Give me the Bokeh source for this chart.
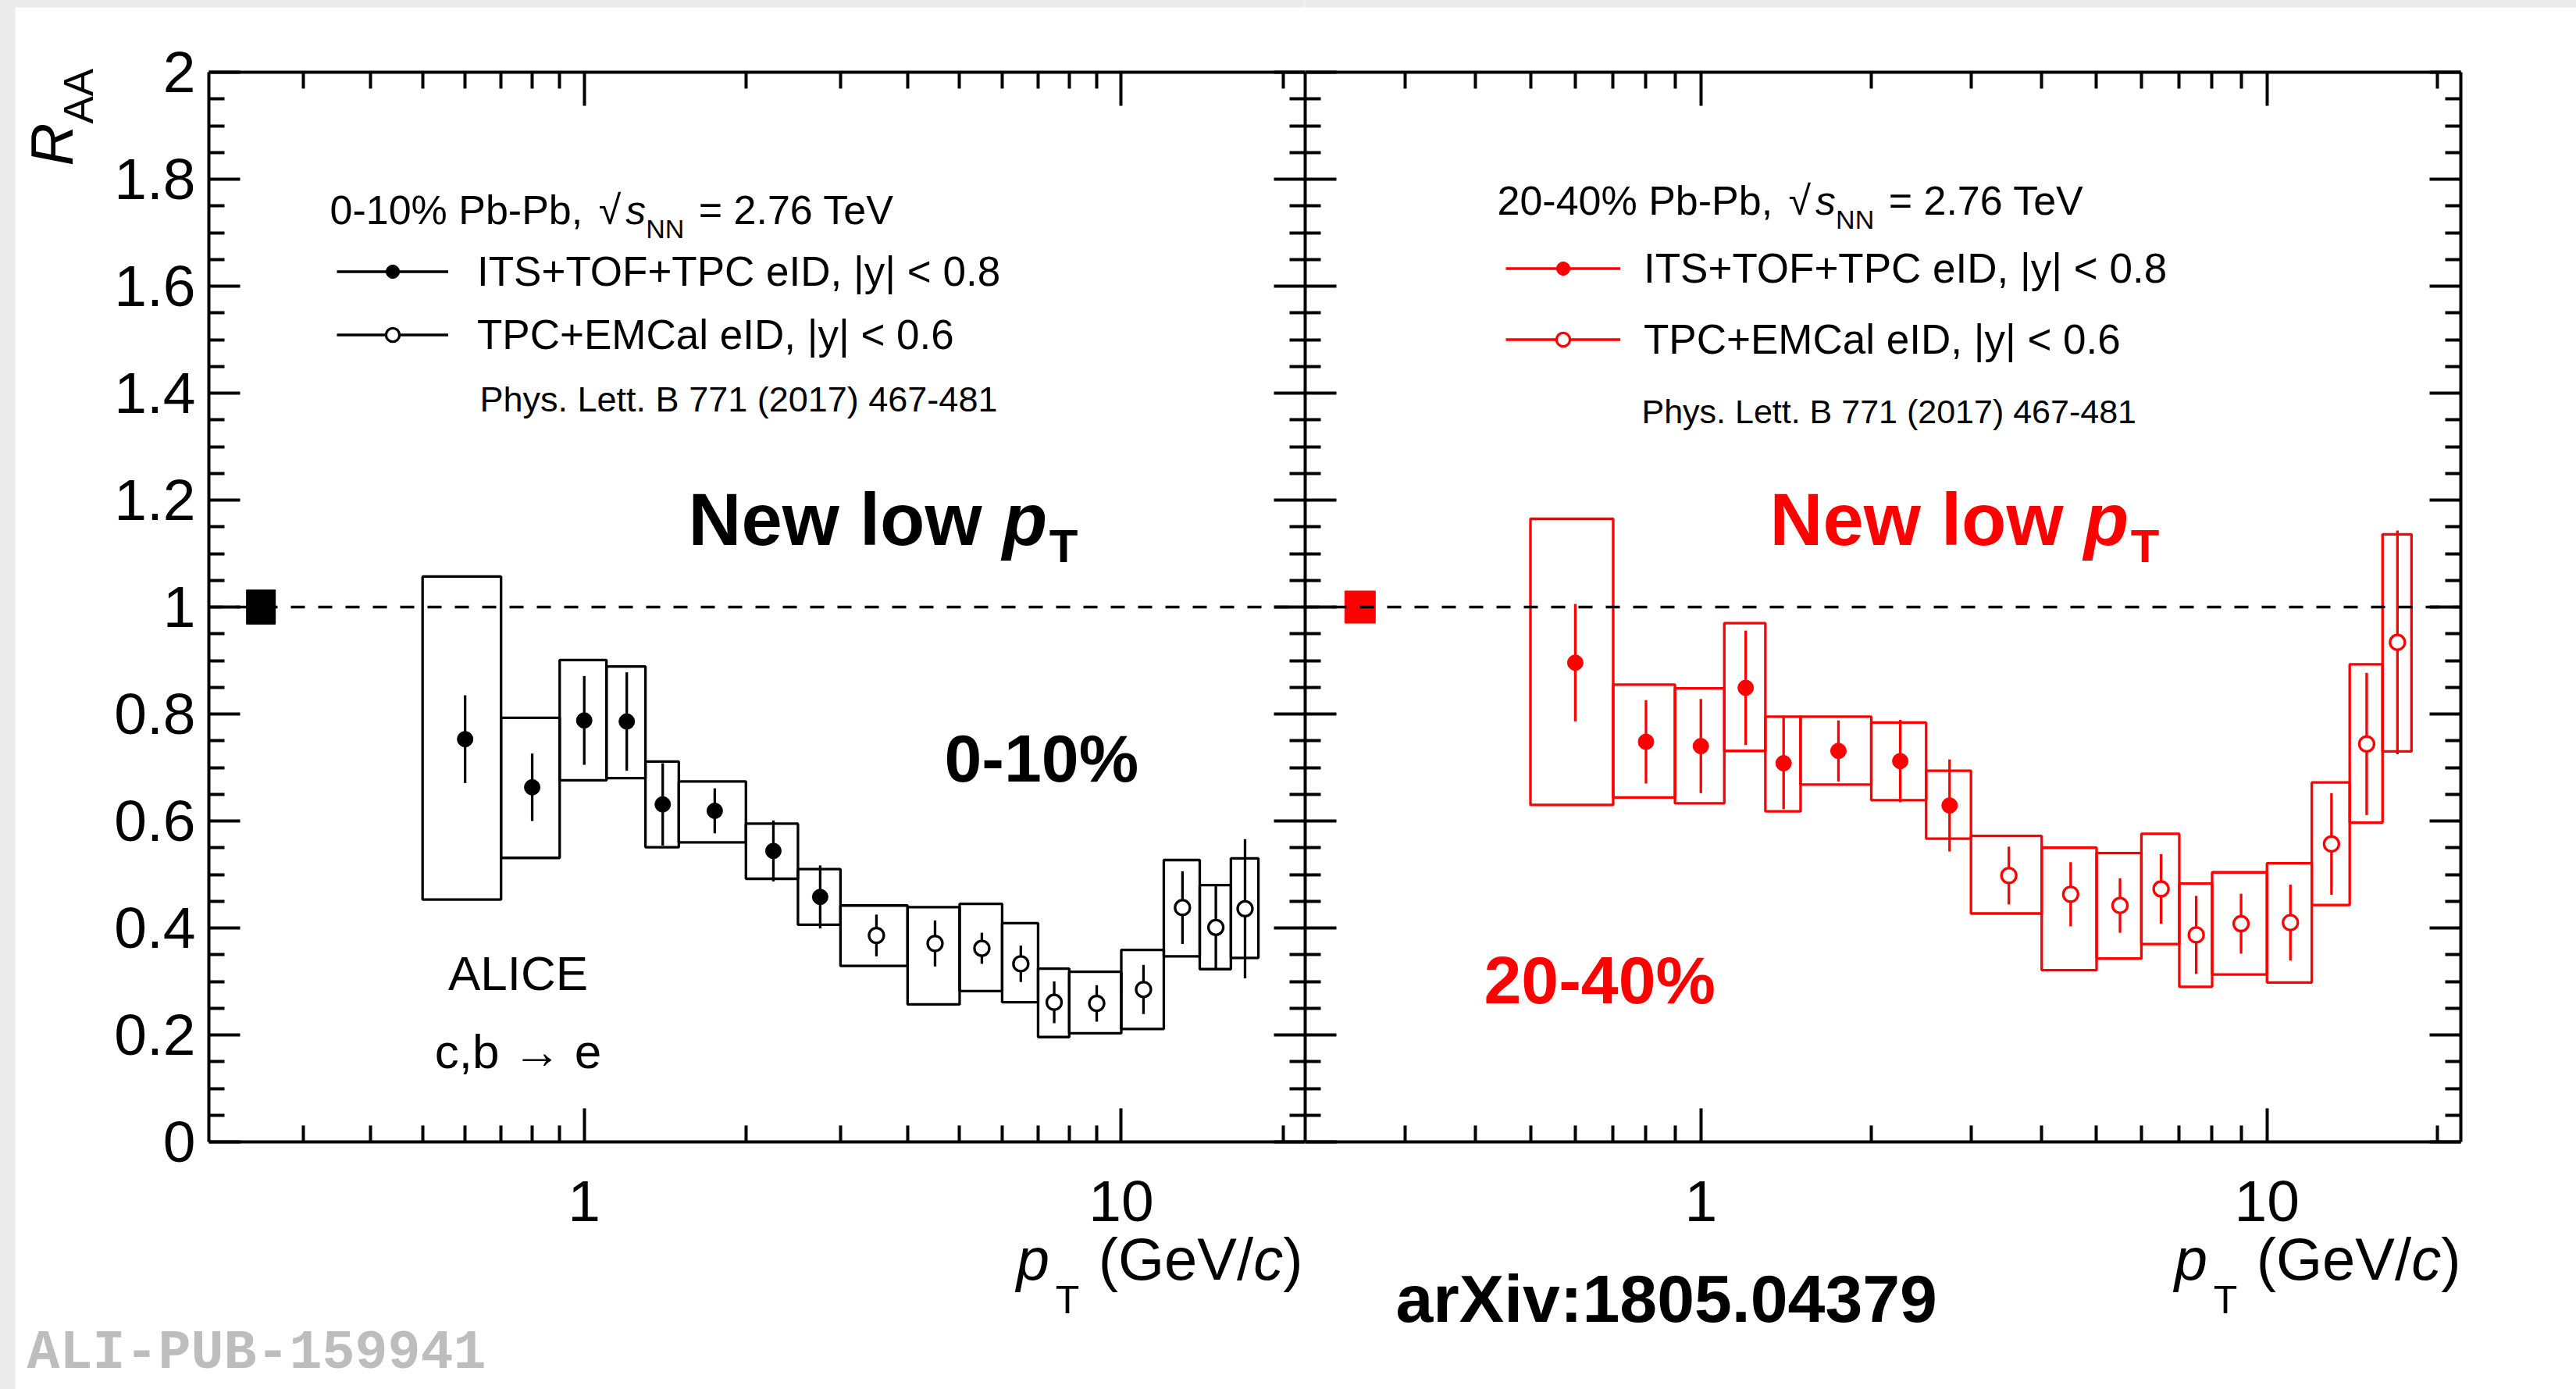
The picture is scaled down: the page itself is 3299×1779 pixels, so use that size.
import math
from bokeh.plotting import figure
from bokeh.models import (Label, LogAxis, LinearAxis, FixedTicker, CustomJSTickFormatter,
                          Span, Legend, LegendItem, Range1d)
from bokeh.core.properties import value
from bokeh.layouts import row
from bokeh.embed import file_html
from bokeh.resources import INLINE

# ---------------- data ----------------
its_pt = [0.6, 0.8, 1.0, 1.2, 1.4, 1.75, 2.25, 2.75]
its_lo = [0.5, 0.7, 0.9, 1.1, 1.3, 1.5, 2.0, 2.5]
its_hi = [0.7, 0.9, 1.1, 1.3, 1.5, 2.0, 2.5, 3.0]
emc_pt = [3.5, 4.5, 5.5, 6.5, 7.5, 9.0, 11.0, 13.0, 15.0, 17.0]
emc_lo = [3, 4, 5, 6, 7, 8, 10, 12, 14, 16]
emc_hi = [4, 5, 6, 7, 8, 10, 12, 14, 16, 18]

# 0-10 %
c010_its_raa = [0.753, 0.663, 0.788, 0.786, 0.631, 0.619, 0.544, 0.458]
c010_its_stat = [0.082, 0.063, 0.083, 0.092, 0.077, 0.042, 0.057, 0.059]
c010_its_sys_up = [0.304, 0.130, 0.113, 0.103, 0.080, 0.055, 0.051, 0.052]
c010_its_sys_dn = [0.300, 0.132, 0.112, 0.106, 0.080, 0.059, 0.052, 0.052]
c010_emc_raa = [0.386, 0.371, 0.362, 0.333, 0.261, 0.259, 0.285, 0.438, 0.401, 0.436]
c010_emc_stat = [0.039, 0.043, 0.029, 0.034, 0.039, 0.034, 0.046, 0.068, 0.077, 0.130]
c010_emc_sys_up = [0.056, 0.068, 0.083, 0.076, 0.063, 0.059, 0.074, 0.089, 0.079, 0.094]
c010_emc_sys_dn = [0.057, 0.114, 0.080, 0.072, 0.065, 0.056, 0.074, 0.091, 0.078, 0.092]

# 20-40 %
c2040_its_raa = [0.896, 0.748, 0.740, 0.849, 0.708, 0.731, 0.712, 0.629]
c2040_its_stat = [0.110, 0.078, 0.088, 0.107, 0.086, 0.057, 0.077, 0.086]
c2040_its_sys_up = [0.269, 0.107, 0.108, 0.121, 0.087, 0.064, 0.072, 0.065]
c2040_its_sys_dn = [0.266, 0.104, 0.107, 0.118, 0.090, 0.063, 0.073, 0.062]
c2040_emc_raa = [0.498, 0.463, 0.442, 0.473, 0.387, 0.408, 0.410, 0.557, 0.744, 0.934]
c2040_emc_stat = [0.054, 0.060, 0.051, 0.065, 0.073, 0.056, 0.071, 0.095, 0.133, 0.209]
c2040_emc_sys_up = [0.074, 0.087, 0.098, 0.103, 0.096, 0.096, 0.111, 0.115, 0.149, 0.202]
c2040_emc_sys_dn = [0.071, 0.142, 0.099, 0.103, 0.097, 0.095, 0.112, 0.114, 0.147, 0.204]

norm_unc_010 = 0.032
norm_unc_2040 = 0.030
norm_box_pt = [0.235, 0.266]

y_major = [0.0, 0.2, 0.4, 0.6, 0.8, 1.0, 1.2, 1.4, 1.6, 1.8, 2.0]
y_minor = [round(0.05 * i, 2) for i in range(41) if i % 4 != 0]
x_major = [1, 10]
x_minor = [0.3, 0.4, 0.5, 0.6, 0.7, 0.8, 0.9, 2, 3, 4, 5, 6, 7, 8, 9, 20]
X_MIN, X_MAX = 0.2, 22.0

# ---------------- layout constants (page pixels) ----------------
W, H = 3299, 1779
F_TOP, F_BOT = 92, 1462
L1, R1 = 267, 1671
L2, R2 = 1671, 3151
SANS = "Liberation Sans"
RED = "#ff0000"
MID = 0.3465  # em-box middle above the baseline

W_REG = {' ': 278, '%': 889, '-': 333, ',': 278, '.': 278, '=': 584, '(': 333, ')': 333,
         '/': 278, '√': 549, '→': 1000, 'P': 667, 'b': 556, 'T': 611, 'e': 556, 'V': 667,
         'N': 722, 's': 500, 'c': 500, 'G': 778, 'A': 667, 'R': 722, 'p': 556}
W_BOLD = {' ': 278, 'N': 722, 'e': 556, 'w': 778, 'l': 278, 'o': 611, 'p': 611, 'T': 611}


def tw(s, size, bold=False):
    tbl = W_BOLD if bold else W_REG
    return sum(tbl.get(ch, 556) for ch in s) * size / 1000.0


def put(p, org, X, Y, text, size, color="black", style="normal", align="left", font=SANS):
    """Label inside a frame; (X, Y) = start of the baseline in page pixels."""
    ox, oy = org
    p.add_layout(Label(x=X - ox, y=oy - (Y - MID * size), x_units="screen", y_units="screen",
                       text=text, text_font=font, text_font_size=f"{size}px",
                       text_font_style=style, text_color=color, text_align=align,
                       text_baseline="middle"))


def put_run(p, org, X, Y, pieces, color="black"):
    for text, size, style, dy, gap in pieces:
        bold = "bold" in style
        stripped = text.lstrip(" ")
        X += tw(text[:len(text) - len(stripped)], size, bold)
        put(p, org, X, Y + dy, stripped, size, color, style)
        X += tw(stripped, size, bold) + gap
    return X


def to_data(G, X, Y):
    l, r = G
    dec = (r - l) / math.log10(X_MAX / X_MIN)
    return X_MIN * 10 ** ((X - l) / dec), 2.0 * (F_BOT - Y) / (F_BOT - F_TOP)


def gtext(p, G, X, Y, text, size, color="black", style="normal", font=SANS, angle=0.0,
          align="left"):
    """Text outside the frame (glyph at annotation level, not clipped)."""
    if angle:
        xd, yd = to_data(G, X - MID * size, Y)
    else:
        xd, yd = to_data(G, X, Y - MID * size)
    p.text(x=[xd], y=[yd], text=[text], text_font=value(font), text_font_size=f"{size}px",
           text_font_style=style, text_color=color, text_align=align,
           text_baseline="middle", angle=angle, level="annotation")


def style_axis(ax, major_in, minor_in, labels, size="75px", standoff=17):
    ax.major_tick_in = major_in
    ax.major_tick_out = 0
    ax.minor_tick_in = minor_in
    ax.minor_tick_out = 0
    ax.major_tick_line_width = 4
    ax.minor_tick_line_width = 4
    ax.axis_line_width = 4
    ax.major_tick_line_color = "black"
    ax.minor_tick_line_color = "black"
    ax.axis_line_color = "black"
    if labels:
        ax.major_label_text_font = SANS
        ax.major_label_text_font_size = size
        ax.major_label_text_color = "black"
        ax.major_label_standoff = standoff
    else:
        ax.major_label_text_font_size = "0px"
        ax.major_label_standoff = 0
        ax.formatter = CustomJSTickFormatter(code="return '';")


def make_panel(width, bl, br, color, its_raa, its_stat, its_up, its_dn,
               emc_raa, emc_stat, emc_up, emc_dn, norm_unc, show_y_labels):
    p = figure(width=width, height=H, x_axis_type="log",
               x_range=Range1d(X_MIN, X_MAX), y_range=Range1d(0, 2),
               min_border_left=bl, min_border_right=br,
               min_border_top=F_TOP, min_border_bottom=H - F_BOT,
               toolbar_location=None, output_backend="svg")
    p.xgrid.visible = False
    p.ygrid.visible = False
    p.outline_line_color = None
    p.background_fill_color = "white"
    p.border_fill_color = "white"

    xt = FixedTicker(ticks=x_major, minor_ticks=x_minor)
    yt = FixedTicker(ticks=y_major, minor_ticks=y_minor)

    xb = p.below[0]
    xb.ticker = xt
    xb.formatter = CustomJSTickFormatter(code="return tick.toString();")
    style_axis(xb, 43, 21, True, "75px", 50)

    xa = LogAxis(ticker=xt)
    style_axis(xa, 43, 21, False)
    p.add_layout(xa, "above")

    yl = p.left[0]
    yl.ticker = yt
    if show_y_labels:
        yl.formatter = CustomJSTickFormatter(code="""
            const r = Math.round(tick * 10) / 10;
            if (Math.abs(r - Math.round(r)) < 1e-9) { return Math.round(r).toString(); }
            return r.toFixed(1);""")
        style_axis(yl, 40, 20, True, "75px", 17)
    else:
        style_axis(yl, 40, 20, False)
    yr = LinearAxis(ticker=yt)
    style_axis(yr, 40, 20, False)
    p.add_layout(yr, "right")

    p.add_layout(Span(location=1.0, dimension="width", line_color="black",
                      line_dash="18 17", line_width=3.3))

    # normalisation uncertainty
    p.quad(left=[norm_box_pt[0]], right=[norm_box_pt[1]], bottom=[1 - norm_unc], top=[1 + norm_unc],
           fill_color=color, line_color=color, line_width=1)

    # systematic boxes
    p.quad(left=its_lo, right=its_hi,
           bottom=[v - d for v, d in zip(its_raa, its_dn)],
           top=[v + u for v, u in zip(its_raa, its_up)],
           fill_color=None, line_color=color, line_width=3.3)
    p.quad(left=emc_lo, right=emc_hi,
           bottom=[v - d for v, d in zip(emc_raa, emc_dn)],
           top=[v + u for v, u in zip(emc_raa, emc_up)],
           fill_color=None, line_color=color, line_width=3.3)
    # statistical bars
    bar_its = p.segment(x0=its_pt, x1=its_pt,
                        y0=[v - s for v, s in zip(its_raa, its_stat)],
                        y1=[v + s for v, s in zip(its_raa, its_stat)],
                        line_color=color, line_width=3.3)
    bar_emc = p.segment(x0=emc_pt, x1=emc_pt,
                        y0=[v - s for v, s in zip(emc_raa, emc_stat)],
                        y1=[v + s for v, s in zip(emc_raa, emc_stat)],
                        line_color=color, line_width=3.3)
    pts_its = p.scatter(its_pt, its_raa, marker="circle", size=20,
                        fill_color=color, line_color=color, line_width=1)
    pts_emc = p.scatter(emc_pt, emc_raa, marker="circle", size=19,
                        fill_color="white", line_color=color, line_width=3.3)
    return p, (bar_its, pts_its, bar_emc, pts_emc)


p1, r1 = make_panel(R1, L1, 0, "black", c010_its_raa, c010_its_stat, c010_its_sys_up,
                    c010_its_sys_dn, c010_emc_raa, c010_emc_stat, c010_emc_sys_up,
                    c010_emc_sys_dn, norm_unc_010, True)
p2, r2 = make_panel(W - R1, 0, W - R2, RED, c2040_its_raa, c2040_its_stat, c2040_its_sys_up,
                    c2040_its_sys_dn, c2040_emc_raa, c2040_emc_stat, c2040_emc_sys_up,
                    c2040_emc_sys_dn, norm_unc_2040, False)

O1 = (L1, F_BOT)
O2 = (L2, F_BOT)
G1 = (L1, R1)
G2 = (L2, R2)

# light grey screenshot frame (top and left edges)
GREY = "#ebebeb"
for p, G, x0 in ((p1, G1, 0), (p2, G2, R1)):
    xl, yt_ = to_data(G, x0, 0)
    xr, yb_ = to_data(G, x0 + (W - R1 if p is p2 else R1), 9)
    p.quad(left=[xl], right=[xr], bottom=[yb_], top=[yt_ + 0.1], fill_color=GREY,
           line_color=None, level="guide")
xl, yt_ = to_data(G1, -5, -5)
xr, yb_ = to_data(G1, 19, H + 5)
p1.quad(left=[xl], right=[xr], bottom=[yb_], top=[yt_], fill_color=GREY,
        line_color=None, level="guide")


def add_legend(p, r, loc, gw, standoff, spacing):
    bar_its, pts_its, bar_emc, pts_emc = r
    leg = Legend(items=[LegendItem(label="ITS+TOF+TPC eID, |y| < 0.8", renderers=[bar_its, pts_its]),
                        LegendItem(label="TPC+EMCal eID, |y| < 0.6", renderers=[bar_emc, pts_emc])],
                 location=loc, glyph_width=gw, glyph_height=43, label_height=60,
                 label_standoff=standoff, spacing=spacing, padding=0, margin=0,
                 border_line_color=None, background_fill_alpha=0,
                 label_text_font=SANS, label_text_font_size="53px", label_text_color="black")
    p.add_layout(leg)


add_legend(p1, r1, (431 - L1, F_BOT - (319 + 140)), 143, 37, 20)
add_legend(p2, r2, (1928 - L2, F_BOT - (315 + 150)), 147, 30, 30)


def title_run(p, org, X, Y, cent):
    put_run(p, org, X, Y, [(cent + " Pb-Pb, ", 52, "normal", 0, 6), ("√", 52, "normal", 0, 6),
                           ("s", 52, "italic", 0, 0), ("NN", 34, "normal", 17, 4),
                           (" = 2.76 TeV", 52, "normal", 0, 0)])


def newlow(p, org, X, Y, color):
    x = put_run(p, org, X, Y, [("New low ", 94, "bold", 0, 0)], color)
    put(p, org, x, Y, "p", 94, color, "bold italic")
    put(p, org, x + 60, Y + 22, "T", 60, color, "bold")


def ptitle(p, G, right, Y):
    size = 76
    x = right - (tw("(GeV/", size) + tw("c", size) + tw(")", size))
    gtext(p, G, x - 105, Y, "p", size, style="italic")
    gtext(p, G, x - 105 + 50, Y + 44, "T", 50)
    gtext(p, G, x, Y, "(GeV/", size)
    x2 = x + tw("(GeV/", size)
    gtext(p, G, x2, Y, "c", size, style="italic")
    gtext(p, G, x2 + tw("c", size), Y, ")", size)


# ---- left panel texts ----
title_run(p1, O1, 422, 287, "0-10%")
put(p1, O1, 614, 527, "Phys. Lett. B 771 (2017) 467-481", 45)
newlow(p1, O1, 881, 698, "black")
put(p1, O1, 1209, 1000, "0-10%", 86, "black", "bold")
put(p1, O1, 663, 1267, "ALICE", 62, align="center")
put(p1, O1, 663, 1367, "c,b → e", 62, align="center")
gtext(p1, G1, 92, 212, "R", 76, style="italic", angle=math.pi / 2)
gtext(p1, G1, 118, 158, "AA", 53, angle=math.pi / 2)
ptitle(p1, G1, R1 - 3, 1638)
gtext(p1, G1, 34, 1757, "ALI-PUB-159941", 70, "#bdbdbd", "bold", font="Liberation Mono")

# ---- right panel texts ----
title_run(p2, O2, 1917, 275, "20-40%")
put(p2, O2, 2102, 541, "Phys. Lett. B 771 (2017) 467-481", 43)
newlow(p2, O2, 2266, 698, RED)
put(p2, O2, 1900, 1284, "20-40%", 86, RED, "bold")
ptitle(p2, G2, R2, 1638)
gtext(p2, G2, 1787, 1692, "arXiv:1805.04379", 86, "black", "bold")

layout = row(p1, p2)
open("out.html", "w").write(file_html(layout, INLINE))
